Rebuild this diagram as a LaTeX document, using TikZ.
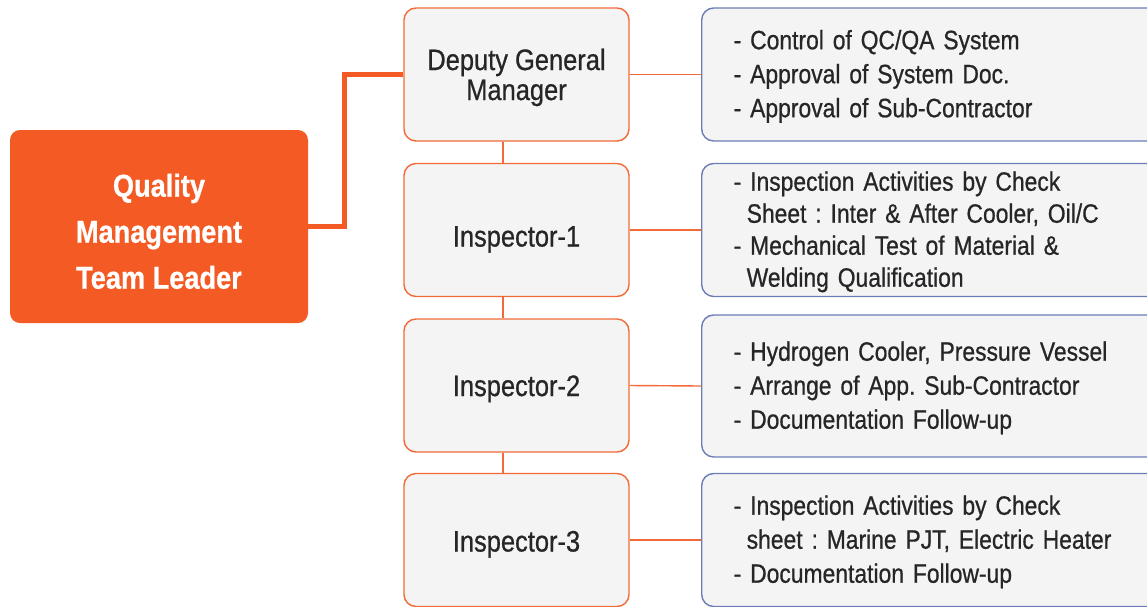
\documentclass[tikz,border=0pt]{standalone}
\usepackage{fontspec}
\setmainfont{Liberation Sans}[FakeStretch=0.86, FakeBold=0.7]
\usetikzlibrary{positioning,calc}
\frenchspacing

\definecolor{qmorange}{HTML}{F45B24}
\definecolor{roleline}{HTML}{F26A38}
\definecolor{dutyline}{HTML}{6B7DB6}
\definecolor{boxgray}{HTML}{F4F4F4}
\definecolor{ink}{HTML}{262626}

\tikzset{
  leader/.style={fill=qmorange, rounded corners=5pt, text=white, align=center,
    font=\fontsize{15.8}{23}\selectfont\bfseries, minimum width=149pt, minimum height=96.5pt},
  role/.style={draw=roleline, line width=0.7pt, fill=boxgray, rounded corners=6pt, text=ink,
    align=center, font=\fontsize{14.8}{15}\selectfont, minimum width=112.5pt, minimum height=66.5pt,
    inner sep=0pt},
  duty/.style={draw=dutyline, line width=0.7pt, fill=boxgray, rounded corners=6pt, text=ink,
    anchor=west, align=left, font=\fontsize{13.3}{17}\selectfont, minimum width=235pt,
    minimum height=66.5pt, text width=215pt, inner xsep=16pt, inner ysep=0pt, text height=11.5pt},
  trunk/.style={draw=qmorange, line width=2.5pt},
  link/.style={draw=roleline, line width=0.7pt}
}

\begin{document}
\begin{tikzpicture}[x=0.5pt,y=-0.5pt]
      \useasboundingbox (0,0) rectangle (1147,606);
      \clip (0,0) rectangle (1147,606);

      % nodes
      \node[leader] (team_leader) at (159,226.5) {\rule{0pt}{16.3pt}Quality\\Management\\Team Leader};

      \node[role] (deputy_gm) at (516.5,74.5) {\rule{0pt}{13.6pt}Deputy General\\Manager};
      \node[role, text height=19.6pt] (inspector_one) at (516.5,230) {Inspector-1};
      \node[role, text height=13.6pt] (inspector_two) at (516.5,385.5) {Inspector-2};
      \node[role, text height=14.6pt] (inspector_three) at (516.5,540) {Inspector-3};

      \node[duty] (duty_dgm) at (701,74.5) {- Control of QC/QA System\\- Approval of System Doc.\\- Approval of Sub-Contractor};
      \node[duty, font=\fontsize{13.3}{16}\selectfont] (duty_one) at (701,230)
        {- Inspection Activities by Check\\\hspace*{6.5pt}Sheet : Inter \& After Cooler, Oil/C\\- Mechanical Test of Material \&\\\hspace*{6.5pt}Welding Qualification};
      \node[duty, minimum height=71pt] (duty_two) at (701,386)
        {- Hydrogen Cooler, Pressure Vessel\\- Arrange of App. Sub-Contractor\\- Documentation Follow-up};
      \node[duty] (duty_three) at (701,540)
        {- Inspection Activities by Check\\\hspace*{6.5pt}sheet : Marine PJT, Electric Heater\\- Documentation Follow-up};

      % edges
      \draw[trunk] (team_leader.east) -- ++(36,0) |- (deputy_gm.west);
      \draw[link] ([xshift=-6.75pt]deputy_gm.south) -- ([xshift=-6.75pt]inspector_one.north);
      \draw[link] ([xshift=-6.75pt]inspector_one.south) -- ([xshift=-6.75pt]inspector_two.north);
      \draw[link] ([xshift=-6.75pt]inspector_two.south) -- ([xshift=-6.75pt]inspector_three.north);
      \draw[link] (deputy_gm.east) -- (duty_dgm.west);
      \draw[link] (inspector_one.east) -- (duty_one.west);
      \draw[link] (inspector_two.east) -- (duty_two.west);
      \draw[link] (inspector_three.east) -- (duty_three.west);

\end{tikzpicture}
\end{document}
